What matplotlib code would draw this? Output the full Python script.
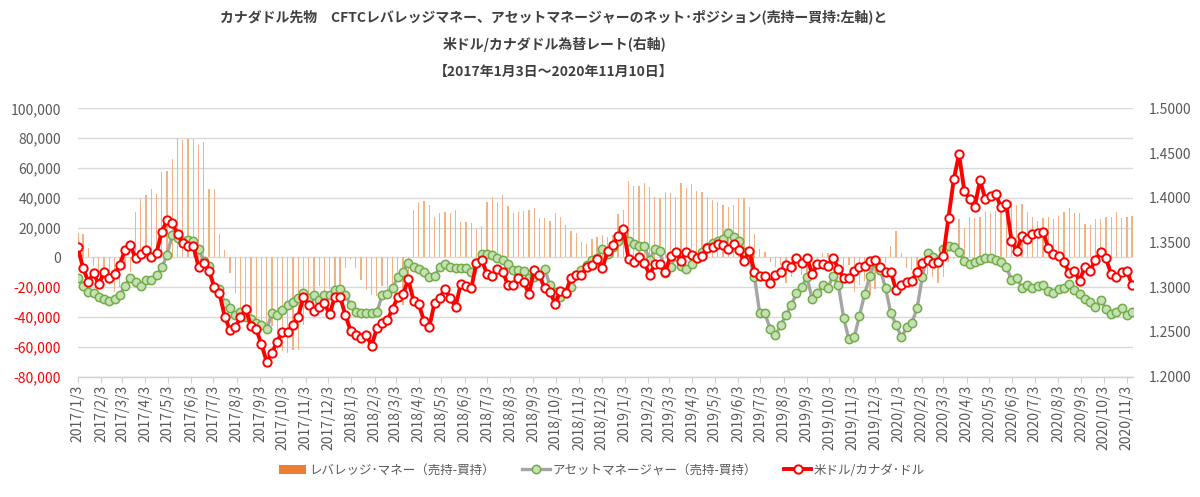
import matplotlib
matplotlib.use('Agg')
import matplotlib.pyplot as plt
import matplotlib.dates as mdates
import matplotlib.ticker as mticker
from matplotlib.lines import Line2D
from matplotlib.patches import Patch
import pandas as pd

plt.rcParams['font.family'] = ['Noto Sans CJK JP', 'DejaVu Sans']

# weekly observation dates (2017/1/3 ... 2020/11/10)
dates = pd.date_range('2017-01-03', '2020-11-10', freq='7D')

# Leveraged money net position (short - long), contracts
leveraged = [
    16600, 15700, 6000, -5600, -13000, -14500, -18600, -23000, -20000, -8000,
    -9600, 30600, 39100, 41600, 46000, 42700, 57300, 57900, 65800, 79900,
    78700, 79200, 79200, 75400, 77200, 45900, 45900, 15700, 4700, -10300,
    -23700, -35000, -40000, -42000, -44000, -48000, -50000, -46000, -62000, -63000,
    -64000, -62000, -62000, -45000, -27000, -23000, -19000, -23000, -21000, -27000,
    -23000, -7000, -1000, -7000, -15000, -22000, -25000, -26000, -19000, -23000,
    -19000, -12000, -32000, -21000, 31800, 37400, 38000, 35000, 27000, 30000,
    30600, 30000, 32000, 24000, 24000, 23000, 19000, 21000, 37000, 40700,
    37000, 41800, 34400, 30000, 30600, 31000, 32000, 32900, 26200, 26600,
    24400, 29500, 27300, 21700, 17700, 16100, 10500, 8700, 12100, 13400,
    15000, 13900, 15000, 29300, 32000, 51200, 48100, 48100, 49700, 47400,
    40700, 40000, 44000, 43000, 40700, 49700, 46300, 49000, 44500, 43600,
    40700, 38500, 37000, 35000, 33500, 35000, 40000, 40000, 33500, 16000,
    5600, 3800, -2900, -6300, -5000, -17400, -13000, -8500, -11900, -11900,
    -9600, -1000, 3100, 2700, -1000, -2900, -10000, -5000, -23000, -18600,
    -16000, -25000, -21000, -6000, -3600, 7800, 17700, 2700, -7400, -8500,
    -11900, -15000, -12000, -13000, -17400, -13000, -3000, -1000, 25700, 19900,
    27300, 26600, 27300, 30200, 29500, 31100, 31100, 33300, 37800, 35100,
    35800, 30200, 27300, 24600, 26600, 27300, 25500, 28000, 30200, 32900,
    29500, 30000, 22400, 21700, 25500, 25700, 27300, 27300, 30600, 26600,
    26800, 28000,
]

# Asset manager net position (short - long), contracts
asset_mgr = [
    -14100, -19000, -23000, -24200, -26800, -28200, -29300, -28000, -25300, -19000,
    -14100, -16300, -19000, -15400, -15400, -11900, -6700, 1600, 15000, 13200,
    11200, 11600, 11000, 5600, -2500, -5600, -20800, -21300, -30900, -33600,
    -38300, -36900, -39800, -41400, -43800, -45400, -48100, -37600, -38300, -35000,
    -32000, -30000, -27500, -24200, -27100, -25300, -28600, -25300, -25300, -21900,
    -21300, -25300, -32000, -36500, -37600, -37600, -37600, -36900, -25300, -24800,
    -20800, -13000, -9600, -3600, -6300, -7800, -9600, -13400, -12300, -6700,
    -4700, -6300, -7400, -6900, -7400, -9600, -4000, 2000, 2000, 1600,
    -200, -1800, -4700, -8500, -8500, -8900, -14100, -13000, -11900, -7800,
    -18600, -23500, -26400, -23000, -19700, -11900, -8500, -5100, -1800, -200,
    5600, 2000, 7200, 11200, 15400, 11200, 8700, 7800, 7800, -1800,
    5600, 4300, -10700, -6300, 1100, -5600, -7800, -4700, -700, 3800,
    7200, 9400, 11200, 12300, 16100, 13900, 11000, 3800, 400, -13000,
    -37600, -37600, -48100, -52100, -45400, -38700, -32000, -24200, -20100, -13000,
    -28000, -24200, -18600, -20400, -12300, -18600, -40500, -55000, -53700, -39400,
    -24600, -12500, -2900, -8500, -20800, -37600, -45000, -53700, -47000, -43800,
    -34200, -13000, 3100, 400, -2500, 5400, 7800, 6700, 3800, -2200,
    -4700, -3400, -1800, -700, -200, -1800, -2900, -6300, -15200, -13600,
    -20400, -18600, -20800, -19000, -18600, -22600, -24200, -21300, -20800, -17900,
    -21900, -24600, -28000, -29800, -33100, -28600, -34700, -38000, -36500, -33600,
    -38700, -36900,
]

# USD/CAD exchange rate
usdcad = [
    1.3446, 1.3211, 1.3062, 1.3155, 1.3032, 1.3174, 1.3099, 1.3152, 1.3249, 1.3420,
    1.3472, 1.3323, 1.3368, 1.3420, 1.3334, 1.3386, 1.3621, 1.3748, 1.3714, 1.3595,
    1.3498, 1.3465, 1.3465, 1.3230, 1.3275, 1.3181, 1.3006, 1.2932, 1.2671, 1.2522,
    1.2552, 1.2663, 1.2757, 1.2570, 1.2533, 1.2362, 1.2168, 1.2268, 1.2391, 1.2496,
    1.2503, 1.2578, 1.2671, 1.2894, 1.2801, 1.2734, 1.2783, 1.2820, 1.2697, 1.2894,
    1.2894, 1.2690, 1.2514, 1.2466, 1.2429, 1.2466, 1.2347, 1.2540, 1.2604, 1.2634,
    1.2757, 1.2894, 1.2924, 1.3088, 1.2850, 1.2809, 1.2622, 1.2552, 1.2827, 1.2883,
    1.2980, 1.2876, 1.2783, 1.3036, 1.3017, 1.2988, 1.3275, 1.3301, 1.3152, 1.3122,
    1.3204, 1.3174, 1.3025, 1.3025, 1.3107, 1.3055, 1.2928, 1.3193, 1.3137, 1.2988,
    1.2950, 1.2816, 1.2958, 1.2935, 1.3107, 1.3137, 1.3137, 1.3222, 1.3249, 1.3316,
    1.3211, 1.3405, 1.3472, 1.3577, 1.3647, 1.3316, 1.3286, 1.3334, 1.3275, 1.3137,
    1.3256, 1.3256, 1.3174, 1.3353, 1.3398, 1.3297, 1.3398, 1.3360, 1.3330, 1.3349,
    1.3435, 1.3454, 1.3480, 1.3472, 1.3427, 1.3480, 1.3416, 1.3293, 1.3405, 1.3174,
    1.3129, 1.3129, 1.3051, 1.3137, 1.3174, 1.3249, 1.3222, 1.3331, 1.3267, 1.3331,
    1.3148, 1.3260, 1.3260, 1.3241, 1.3331, 1.3204, 1.3099, 1.3099, 1.3181, 1.3230,
    1.3241, 1.3293, 1.3304, 1.3230, 1.3174, 1.3167, 1.2969, 1.3025, 1.3062, 1.3073,
    1.3174, 1.3267, 1.3304, 1.3267, 1.3286, 1.3353, 1.3778, 1.4210, 1.4486, 1.4080,
    1.3983, 1.3901, 1.4199, 1.3987, 1.4020, 1.4042, 1.3893, 1.3927, 1.3521, 1.3405,
    1.3577, 1.3539, 1.3591, 1.3603, 1.3621, 1.3442, 1.3372, 1.3353, 1.3286, 1.3155,
    1.3181, 1.3073, 1.3230, 1.3185, 1.3304, 1.3398, 1.3323, 1.3148, 1.3118, 1.3174,
    1.3181, 1.3025,
]

left_ticks = [-80000, -60000, -40000, -20000, 0, 20000, 40000, 60000, 80000, 100000]
right_ticks = [1.20, 1.25, 1.30, 1.35, 1.40, 1.45, 1.50]

title_lines = [
    "カナダドル先物　CFTCレバレッジマネー、アセットマネージャーのネット･ポジション(売持ー買持:左軸)と",
    "米ドル/カナダドル為替レート(右軸)",
    "【2017年1月3日～2020年11月10日】",
]
legend_labels = ["レバレッジ･マネー（売持-買持）", "アセットマネージャー（売持-買持）", "米ドル/カナダ･ドル"]

GRAY_TXT = '#595959'
W, H = 1200, 497
fig = plt.figure(figsize=(W / 100, H / 100), dpi=100)
x0, x1, ytop, ybot = 77.5, 1132.5, 108.3, 376.7
ax = fig.add_axes([x0 / W, 1 - ybot / H, (x1 - x0) / W, (ybot - ytop) / H])

ax.bar(dates, leveraged, width=1.7, color='#F4B183', zorder=2)
ax.plot(dates, asset_mgr, color='#A5A5A5', lw=2.4, marker='o', ms=6.0,
        mfc='#C5E0B4', mec='#70AD47', mew=1.1, zorder=3)

ax.set_ylim(-80000, 100000)
ax.set_yticks(left_ticks)
ax.set_yticklabels([f"{v:,}" for v in left_ticks])
for v, lab in zip(left_ticks, ax.get_yticklabels()):
    lab.set_color('#FF0000' if v < 0 else GRAY_TXT)
ax.tick_params(axis='y', length=0, labelsize=10, pad=12)
ax.grid(axis='y', color='#D9D9D9', lw=1.0, zorder=0)
ax.set_axisbelow(True)
for s in ['left', 'right', 'top']:
    ax.spines[s].set_visible(False)
ax.spines['bottom'].set_color('#D0D0D0')
ax.spines['bottom'].set_linewidth(1.0)

start = dates[0] - pd.Timedelta(hours=12)
end = dates[-1] + pd.Timedelta(hours=12)
ax.set_xlim(start, end)
ax.xaxis.set_major_locator(mdates.MonthLocator(bymonthday=3))
def fmt_date(x, pos=None):
    d = mdates.num2date(x)
    return f"{d.year}/{d.month}/{d.day}"
ax.xaxis.set_major_formatter(mticker.FuncFormatter(fmt_date))
ax.tick_params(axis='x', direction='out', length=4, color='#D0D0D0', labelsize=10,
               labelcolor=GRAY_TXT, labelrotation=90, pad=2)

ax2 = ax.twinx()
ax2.plot(dates, usdcad, color='#FF0000', lw=2.8, marker='o', ms=6.0,
         mfc='white', mec='#FF0000', mew=1.4, zorder=4)
ax2.set_ylim(1.2, 1.5)
ax2.set_yticks(right_ticks)
ax2.set_yticklabels([f"{v:.4f}" for v in right_ticks])
ax2.tick_params(axis='y', length=0, labelsize=10, labelcolor=GRAY_TXT, pad=12)
for s in ['left', 'right', 'top', 'bottom']:
    ax2.spines[s].set_visible(False)
ax2.set_xlim(start, end)

ys = [17, 45, 72]
for line, y in zip(title_lines, ys):
    fig.text(554 / W, 1 - y / H, line, ha='center', va='center', fontsize=10,
             fontweight='bold', color='#404040')

handles = [
    Patch(facecolor='#ED7D31', edgecolor='none'),
    Line2D([0], [0], color='#A5A5A5', lw=2.4, marker='o', ms=6.0, mfc='#C5E0B4', mec='#70AD47', mew=1.1),
    Line2D([0], [0], color='#FF0000', lw=2.8, marker='o', ms=6.0, mfc='white', mec='#FF0000', mew=1.4),
]
fig.legend(handles, legend_labels, loc='center', bbox_to_anchor=(602 / W, 1 - 470 / H), ncol=3,
           frameon=False, fontsize=9, labelcolor=GRAY_TXT, handlelength=2.2, columnspacing=2.2,
           handletextpad=0.2)

fig.savefig('out.png', dpi=100)
